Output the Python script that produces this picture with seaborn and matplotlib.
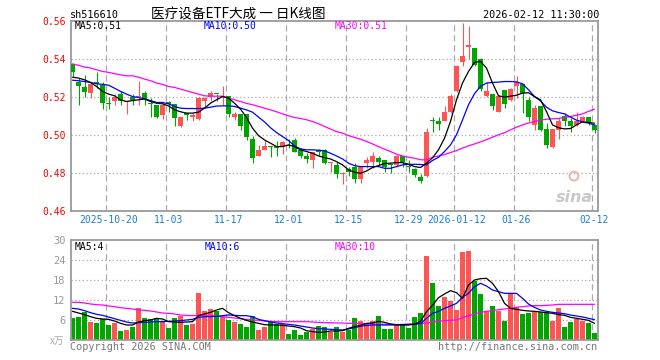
import numpy as np
import pandas as pd
import matplotlib
matplotlib.use('Agg')
import matplotlib.pyplot as plt
import seaborn as sns

sns.set_theme(style='white')
plt.rcParams['font.family'] = ['DejaVu Sans Mono', 'Noto Sans CJK SC']

# ---- daily K-line data ----
opens = [.5375, .5282, .5254, .5220, .5277, .5263, .5168, .5177, .5216, .5172,
         .5203, .5200, .5220, .5168, .5156, .5107, .5172, .5163, .5046, .5112,
         .5098, .5086, .5177, .5200, .5218, .5202, .5207, .5098, .5111, .5111,
         .4980, .4891, .4923, .4938, .4944, .4937, .4945, .4975, .4923, .4891,
         .4870, .4916, .4923, .4853, .4844, .4797, .4823, .4835, .4772, .4853,
         .4861, .4879, .4870, .4846, .4844, .4891, .4833, .4823, .4782, .4783,
         .5076, .5076, .5076, .5120, .5230, .5386, .5463, .5460, .5400, .5207,
         .5218, .5123, .5235, .5186, .5256, .5268, .5186, .5054, .5154, .5035,
         .4940, .5028, .5102, .5077, .5054, .5072, .5098, .5054]
highs = [.5378, .5300, .5317, .5275, .5330, .5282, .5203, .5217, .5230, .5180,
         .5217, .5286, .5230, .5195, .5160, .5168, .5182, .5165, .5098, .5112,
         .5116, .5203, .5200, .5231, .5218, .5256, .5207, .5124, .5112, .5112,
         .4997, .4949, .4975, .4944, .4968, .4968, .4980, .4984, .4932, .4905,
         .4914, .4930, .4925, .4858, .4861, .4809, .4835, .4853, .4837, .4884,
         .4914, .4891, .4872, .4853, .4896, .4893, .4870, .4825, .4796, .5037,
         .5098, .5098, .5154, .5217, .5368, .5589, .5572, .5460, .5405, .5277,
         .5218, .5210, .5235, .5250, .5309, .5270, .5203, .5160, .5154, .5063,
         .5035, .5089, .5116, .5089, .5124, .5100, .5098, .5060]
lows = [.5310, .5160, .5200, .5195, .5250, .5140, .5140, .5160, .5160, .5110,
        .5160, .5160, .5160, .5098, .5090, .5084, .5124, .5050, .5042, .5080,
        .5072, .5080, .5147, .5177, .5177, .5160, .5098, .5080, .5028, .4975,
        .4856, .4888, .4920, .4884, .4890, .4902, .4932, .4909, .4879, .4853,
        .4826, .4888, .4850, .4809, .4777, .4744, .4784, .4747, .4750, .4826,
        .4826, .4844, .4809, .4800, .4835, .4832, .4809, .4779, .4747, .4780,
        .5019, .5028, .5072, .5116, .5225, .5361, .5400, .5361, .5230, .5203,
        .5130, .5120, .5142, .5180, .5195, .5119, .5072, .5025, .5020, .4932,
        .4932, .4979, .5049, .5019, .5046, .5067, .5054, .5011]
closes = [.5330, .5256, .5228, .5267, .5267, .5167, .5165, .5203, .5177, .5177,
          .5186, .5207, .5190, .5165, .5098, .5160, .5165, .5090, .5093, .5108,
          .5103, .5198, .5198, .5220, .5216, .5207, .5112, .5112, .5050, .4990,
          .4882, .4923, .4944, .4936, .4932, .4965, .4943, .4914, .4891, .4874,
          .4909, .4914, .4856, .4858, .4797, .4802, .4804, .4772, .4835, .4870,
          .4891, .4861, .4832, .4844, .4891, .4858, .4831, .4793, .4761, .5019,
          .5074, .5058, .5121, .5207, .5361, .5418, .5472, .5367, .5242, .5230,
          .5154, .5207, .5165, .5242, .5282, .5221, .5098, .5142, .5028, .4946,
          .5035, .5077, .5077, .5046, .5077, .5098, .5067, .5028]
ma5 = [.5305, .5300, .5291, .5277, .5256, .5230, .5216, .5207, .5186, .5177,
       .5182, .5186, .5190, .5177, .5168, .5165, .5154, .5133, .5123, .5116,
       .5116, .5121, .5142, .5168, .5186, .5203, .5195, .5168, .5137, .5093,
       .5037, .4998, .4975, .4958, .4940, .4940, .4949, .4940, .4923, .4914,
       .4905, .4891, .4882, .4875, .4861, .4844, .4818, .4805, .4800, .4812,
       .4830, .4840, .4851, .4853, .4856, .4856, .4847, .4835, .4830, .4853,
       .4881, .4923, .4984, .5072, .5186, .5274, .5335, .5382, .5388, .5353,
       .5274, .5207, .5200, .5205, .5210, .5221, .5223, .5203, .5186, .5124,
       .5054, .5039, .5033, .5035, .5054, .5070, .5067, .5063]
ma10 = [.5289, .5286, .5282, .5277, .5270, .5267, .5263, .5247, .5230, .5216,
        .5203, .5198, .5191, .5182, .5172, .5172, .5165, .5151, .5142, .5140,
        .5140, .5140, .5142, .5147, .5153, .5154, .5154, .5151, .5142, .5133,
        .5121, .5095, .5070, .5039, .5014, .4993, .4972, .4944, .4928, .4923,
        .4923, .4921, .4918, .4905, .4891, .4875, .4853, .4840, .4835, .4835,
        .4835, .4835, .4826, .4826, .4835, .4844, .4847, .4847, .4846, .4844,
        .4867, .4884, .4914, .4949, .5002, .5080, .5160, .5218, .5256, .5274,
        .5277, .5279, .5282, .5282, .5280, .5270, .5239, .5203, .5180, .5147,
        .5128, .5119, .5112, .5095, .5079, .5070, .5063, .5054]
ma30 = [.5374, .5367, .5358, .5353, .5344, .5335, .5330, .5323, .5317, .5312,
        .5312, .5305, .5295, .5286, .5274, .5267, .5256, .5251, .5242, .5233,
        .5224, .5216, .5207, .5205, .5205, .5205, .5195, .5186, .5177, .5167,
        .5160, .5151, .5142, .5133, .5123, .5112, .5102, .5093, .5088, .5081,
        .5072, .5060, .5046, .5032, .5019, .5011, .4998, .4988, .4979, .4967,
        .4954, .4940, .4926, .4914, .4900, .4891, .4884, .4879, .4871, .4870,
        .4884, .4891, .4898, .4909, .4919, .4932, .4944, .4954, .4965, .4976,
        .4990, .5002, .5013, .5028, .5042, .5054, .5064, .5072, .5079, .5084,
        .5086, .5088, .5093, .5098, .5105, .5112, .5125, .5137]

volume = [6.5, 6.9, 8.3, 5.4, 5.1, 6.3, 4.5, 5.2, 2.7, 2.9,
          4.0, 9.6, 6.5, 6.2, 6.5, 5.7, 3.7, 6.5, 7.3, 4.5,
          4.8, 14.1, 8.7, 9.3, 8.8, 6.8, 6.0, 5.4, 4.8, 3.9,
          7.3, 3.0, 4.0, 5.3, 4.9, 4.8, 1.8, 3.0, 1.5, 2.5,
          3.4, 4.3, 3.9, 2.5, 3.9, 2.5, 2.9, 6.6, 5.7, 4.9,
          5.7, 7.2, 3.3, 3.3, 4.5, 4.5, 3.7, 6.9, 8.1, 25.3,
          17.1, 10.3, 12.9, 11.7, 9.0, 26.5, 26.8, 17.7, 13.9, 8.7,
          10.3, 8.7, 5.8, 14.1, 10.0, 7.8, 8.1, 8.4, 8.4, 8.2,
          5.8, 9.7, 3.9, 5.5, 6.4, 5.8, 5.1, 2.2]
vma5 = [8.6, 8.1, 7.6, 7.0, 6.5, 6.3, 6.2, 5.7, 5.0, 4.5,
        4.5, 5.4, 5.8, 6.0, 6.5, 6.3, 5.5, 5.4, 5.3, 5.4,
        5.5, 7.3, 7.8, 8.3, 9.0, 9.5, 8.2, 7.3, 6.5, 5.9,
        5.4, 5.0, 4.6, 4.5, 4.5, 4.4, 4.2, 4.0, 3.6, 2.8,
        2.5, 2.3, 2.4, 2.7, 2.7, 2.8, 3.5, 4.0, 4.4, 5.0,
        5.1, 5.6, 5.3, 4.8, 4.6, 4.5, 4.5, 4.7, 5.6, 8.5,
        10.4, 12.7, 13.8, 14.8, 14.2, 12.5, 16.5, 18.0, 18.4, 18.5,
        17.0, 14.5, 11.0, 9.5, 9.2, 8.9, 8.7, 8.6, 8.4, 8.2,
        8.0, 7.6, 7.4, 6.8, 6.5, 6.2, 5.9, 5.0]
vma10 = [9.5, 9.3, 8.8, 8.2, 7.7, 7.4, 6.9, 6.4, 5.9, 5.4,
         5.1, 5.2, 5.3, 5.4, 5.5, 5.5, 5.6, 5.7, 5.8, 6.0,
         6.2, 6.8, 7.0, 7.0, 7.1, 7.3, 7.5, 7.4, 7.3, 7.3,
         7.0, 6.2, 5.8, 5.4, 5.1, 4.9, 4.7, 4.5, 4.2, 3.9,
         3.6, 3.4, 3.3, 3.2, 3.1, 3.0, 3.3, 3.7, 4.1, 4.4,
         4.5, 4.5, 4.5, 4.5, 4.5, 4.6, 4.7, 4.8, 4.9, 6.5,
         8.0, 8.6, 9.5, 10.2, 11.0, 12.8, 14.0, 16.0, 17.0, 16.2,
         15.0, 14.5, 14.0, 14.0, 14.0, 12.5, 10.8, 9.8, 9.0, 8.6,
         8.3, 8.1, 7.9, 7.5, 7.2, 6.9, 6.5, 6.1]
vma30 = [11.3, 11.3, 11.1, 10.8, 10.6, 10.5, 10.2, 10.0, 9.7, 9.5,
         9.3, 9.0, 8.9, 8.7, 8.4, 8.1, 8.0, 7.8, 7.5, 7.4,
         7.3, 7.4, 7.5, 7.3, 7.2, 7.0, 6.8, 6.6, 6.4, 6.2,
         6.0, 5.9, 5.7, 5.6, 5.5, 5.5, 5.5, 5.5, 5.5, 5.5,
         5.4, 5.3, 5.2, 5.2, 5.1, 5.1, 5.0, 5.0, 4.9, 4.9,
         4.8, 4.8, 4.7, 4.7, 4.6, 4.7, 4.7, 4.8, 4.9, 5.1,
         5.4, 5.6, 5.8, 5.9, 6.0, 6.7, 7.3, 7.8, 8.3, 8.6,
         8.8, 9.1, 9.3, 9.5, 9.8, 10.0, 10.2, 10.3, 10.3, 10.4,
         10.5, 10.7, 10.7, 10.7, 10.7, 10.7, 10.7, 10.7]

date_pos = [6, 16, 26, 36, 46, 56, 64, 74, 87]
date_labels = ['2025-10-20', '11-03', '11-17', '12-01', '12-15', '12-29',
               '2026-01-12', '01-26', '02-12']
price_ticks = [0.46, 0.48, 0.50, 0.52, 0.54, 0.56]
vol_ticks = [0, 6, 12, 18, 24, 30]

df = pd.DataFrame({'open': opens, 'high': highs, 'low': lows, 'close': closes,
                   'ma5': ma5, 'ma10': ma10, 'ma30': ma30, 'volume': volume,
                   'vma5': vma5, 'vma10': vma10, 'vma30': vma30})
df['x'] = np.arange(len(df))
df['dir'] = np.where(df['close'] > df['open'], 'up', 'down')

RED, GREEN = '#ff5454', '#00a600'
GRID, FRAME = '#aaaaaa', '#9a9a9a'
colors = df['dir'].map({'up': RED, 'down': GREEN})

W, H = 660, 360
fig = plt.figure(figsize=(6.6, 3.6), dpi=100)
fig.patch.set_facecolor('white')
L, R = 70.5, 597.7
ax = fig.add_axes([L / W, 1 - 211.3 / H, (R - L) / W, (211.3 - 21) / H])
axv = fig.add_axes([L / W, 1 - 340 / H, (R - L) / W, 100 / H])
xlim = ((L - 72.5) / 6, (R - 72.5) / 6)

for a in (ax, axv):
    for s in a.spines.values():
        s.set_color(FRAME)
        s.set_linewidth(1.3)
    for p in date_pos:
        a.axvline(p - 0.42, color=GRID, lw=0.9, ls=(0, (5, 3)), zorder=0)
    a.set_xlim(*xlim)
    a.tick_params(length=0)

for t in price_ticks[1:-1]:
    ax.axhline(t, color=GRID, lw=0.9, ls=(0, (1, 2)), zorder=0)
for t in vol_ticks[1:-1]:
    axv.axhline(t, color=GRID, lw=0.9, ls=(0, (1, 2)), zorder=0)

# candles
body_lo = df[['open', 'close']].min(axis=1)
body_h = (df['close'] - df['open']).abs().clip(lower=0.0006)
ax.vlines(df['x'], df['low'], df['high'], colors=colors, lw=0.8, zorder=2)
ax.bar(df['x'], body_h, bottom=body_lo, width=0.8, color=colors, lw=0, zorder=3)

sns.lineplot(x=df['x'], y=df['ma30'], color='#ff00ff', lw=0.9, ax=ax, zorder=4)
sns.lineplot(x=df['x'], y=df['ma10'], color='#0000ff', lw=0.9, ax=ax, zorder=4)
sns.lineplot(x=df['x'], y=df['ma5'], color='black', lw=0.9, ax=ax, zorder=5)

ax.set_ylim(0.46, 0.56)
ax.set_yticks(price_ticks)
ax.set_yticklabels([f'{t:.2f}' for t in price_ticks], color='red', fontsize=7)
ax.set_xticks(date_pos)
ax.set_xticklabels(date_labels, color='#1a7fd4', fontsize=7)
ax.tick_params(axis='y', pad=3.5)
ax.tick_params(axis='x', pad=3)
ax.set_xlabel('')
ax.set_ylabel('')

# sina watermark
ax.scatter([0.955], [0.185], transform=ax.transAxes, s=40, marker='o',
           facecolor='none', edgecolor='#f3b5b5', lw=1.6, zorder=1)
ax.text(0.955, 0.07, 'sina', transform=ax.transAxes, ha='center', va='center',
        fontsize=11.5, color='#c8c8c8', style='italic', weight='bold',
        family='DejaVu Sans', zorder=1)

# volume
axv.bar(df['x'], df['volume'], width=0.85, color=colors, lw=0, zorder=2)
sns.lineplot(x=df['x'], y=df['vma30'], color='#ff00ff', lw=0.9, ax=axv, zorder=4)
sns.lineplot(x=df['x'], y=df['vma10'], color='#0000ff', lw=0.9, ax=axv, zorder=4)
sns.lineplot(x=df['x'], y=df['vma5'], color='black', lw=0.9, ax=axv, zorder=5)
axv.set_ylim(0, 30)
axv.set_yticks(vol_ticks)
axv.set_yticklabels([''] + [str(t) for t in vol_ticks[1:]], color='#999999', fontsize=7.5)
axv.tick_params(axis='y', pad=3.5)
axv.set_xticks([])
axv.set_xlabel('')
axv.set_ylabel('')

# texts
def ftext(x, y, s, **kw):
    fig.text(x / W, 1 - y / H, s, va='center', **kw)

ftext(70, 15, 'sh516610', fontsize=7.3, color='black')
ftext(151, 14, '医疗设备ETF大成 一 日K线图', fontsize=9.8, color='black',
      family=['Noto Sans CJK SC', 'DejaVu Sans'])
ftext(599, 15, '2026-02-12 11:30:00', fontsize=7.3, color='black', ha='right')
ftext(75, 26, 'MA5:0.51', fontsize=7, color='black')
ftext(204, 26, 'MA10:0.50', fontsize=7, color='#0000ff')
ftext(335, 26, 'MA30:0.51', fontsize=7, color='#ff00ff')
ftext(75, 247, 'MA5:4', fontsize=7, color='black')
ftext(205, 247, 'MA10:6', fontsize=7, color='#0000ff')
ftext(335, 247, 'MA30:10', fontsize=7, color='#ff00ff')
ftext(50, 341, 'x万', fontsize=7, color='#aaaaaa',
      family=['Noto Sans CJK SC', 'DejaVu Sans'])
ftext(70, 347, 'Copyright 2026 SINA.COM', fontsize=7.3, color='#777777')
ftext(597, 347, 'http://finance.sina.com.cn', fontsize=7.3, color='#777777', ha='right')

fig.savefig('out.png', dpi=100)
